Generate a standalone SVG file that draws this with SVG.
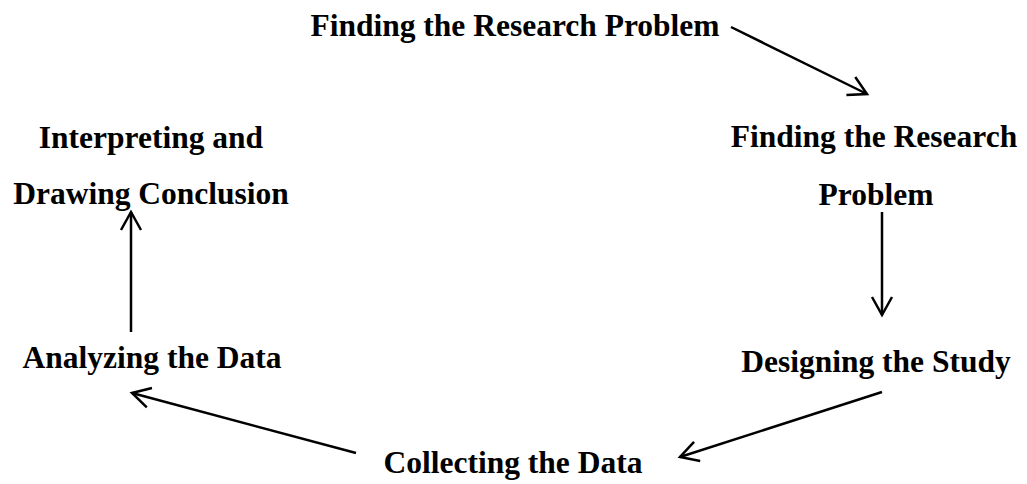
<svg xmlns="http://www.w3.org/2000/svg" width="1027" height="484" viewBox="0 0 1027 484">
<style>
.t{font-family:"Liberation Serif","Times New Roman",serif;font-weight:bold;font-size:31.5px;fill:#000;text-anchor:middle}
.c{stroke:#000;stroke-width:2.5;fill:none}
</style>
<defs>
<marker id="ah" viewBox="0 0 24 24" refX="21" refY="12" markerWidth="24" markerHeight="24" markerUnits="userSpaceOnUse" orient="auto">
<path d="M3,2 L21,12 L3,22" fill="none" stroke="#000" stroke-width="2.5"/>
</marker>
</defs>
<rect width="1027" height="484" fill="#fff"/>
<g id="n1"><text class="t" x="515" y="36">Finding the Research Problem</text></g>
<g id="n2"><text class="t" x="874" y="147">Finding the Research</text><text class="t" x="876" y="205">Problem</text></g>
<g id="n3"><text class="t" x="876" y="372">Designing the Study</text></g>
<g id="n4"><text class="t" x="513" y="473">Collecting the Data</text></g>
<g id="n5"><text class="t" x="152" y="368">Analyzing the Data</text></g>
<g id="n6"><text class="t" x="151" y="148">Interpreting and</text><text class="t" x="151" y="204">Drawing Conclusion</text></g>
<g id="connectors">
<line class="c" x1="731" y1="27" x2="867" y2="94" marker-end="url(#ah)"/>
<line class="c" x1="882" y1="212" x2="882" y2="315" marker-end="url(#ah)"/>
<line class="c" x1="882" y1="392" x2="680" y2="457" marker-end="url(#ah)"/>
<line class="c" x1="356" y1="453" x2="132" y2="393" marker-end="url(#ah)"/>
<line class="c" x1="131" y1="332" x2="131" y2="212" marker-end="url(#ah)"/>
</g>
</svg>
